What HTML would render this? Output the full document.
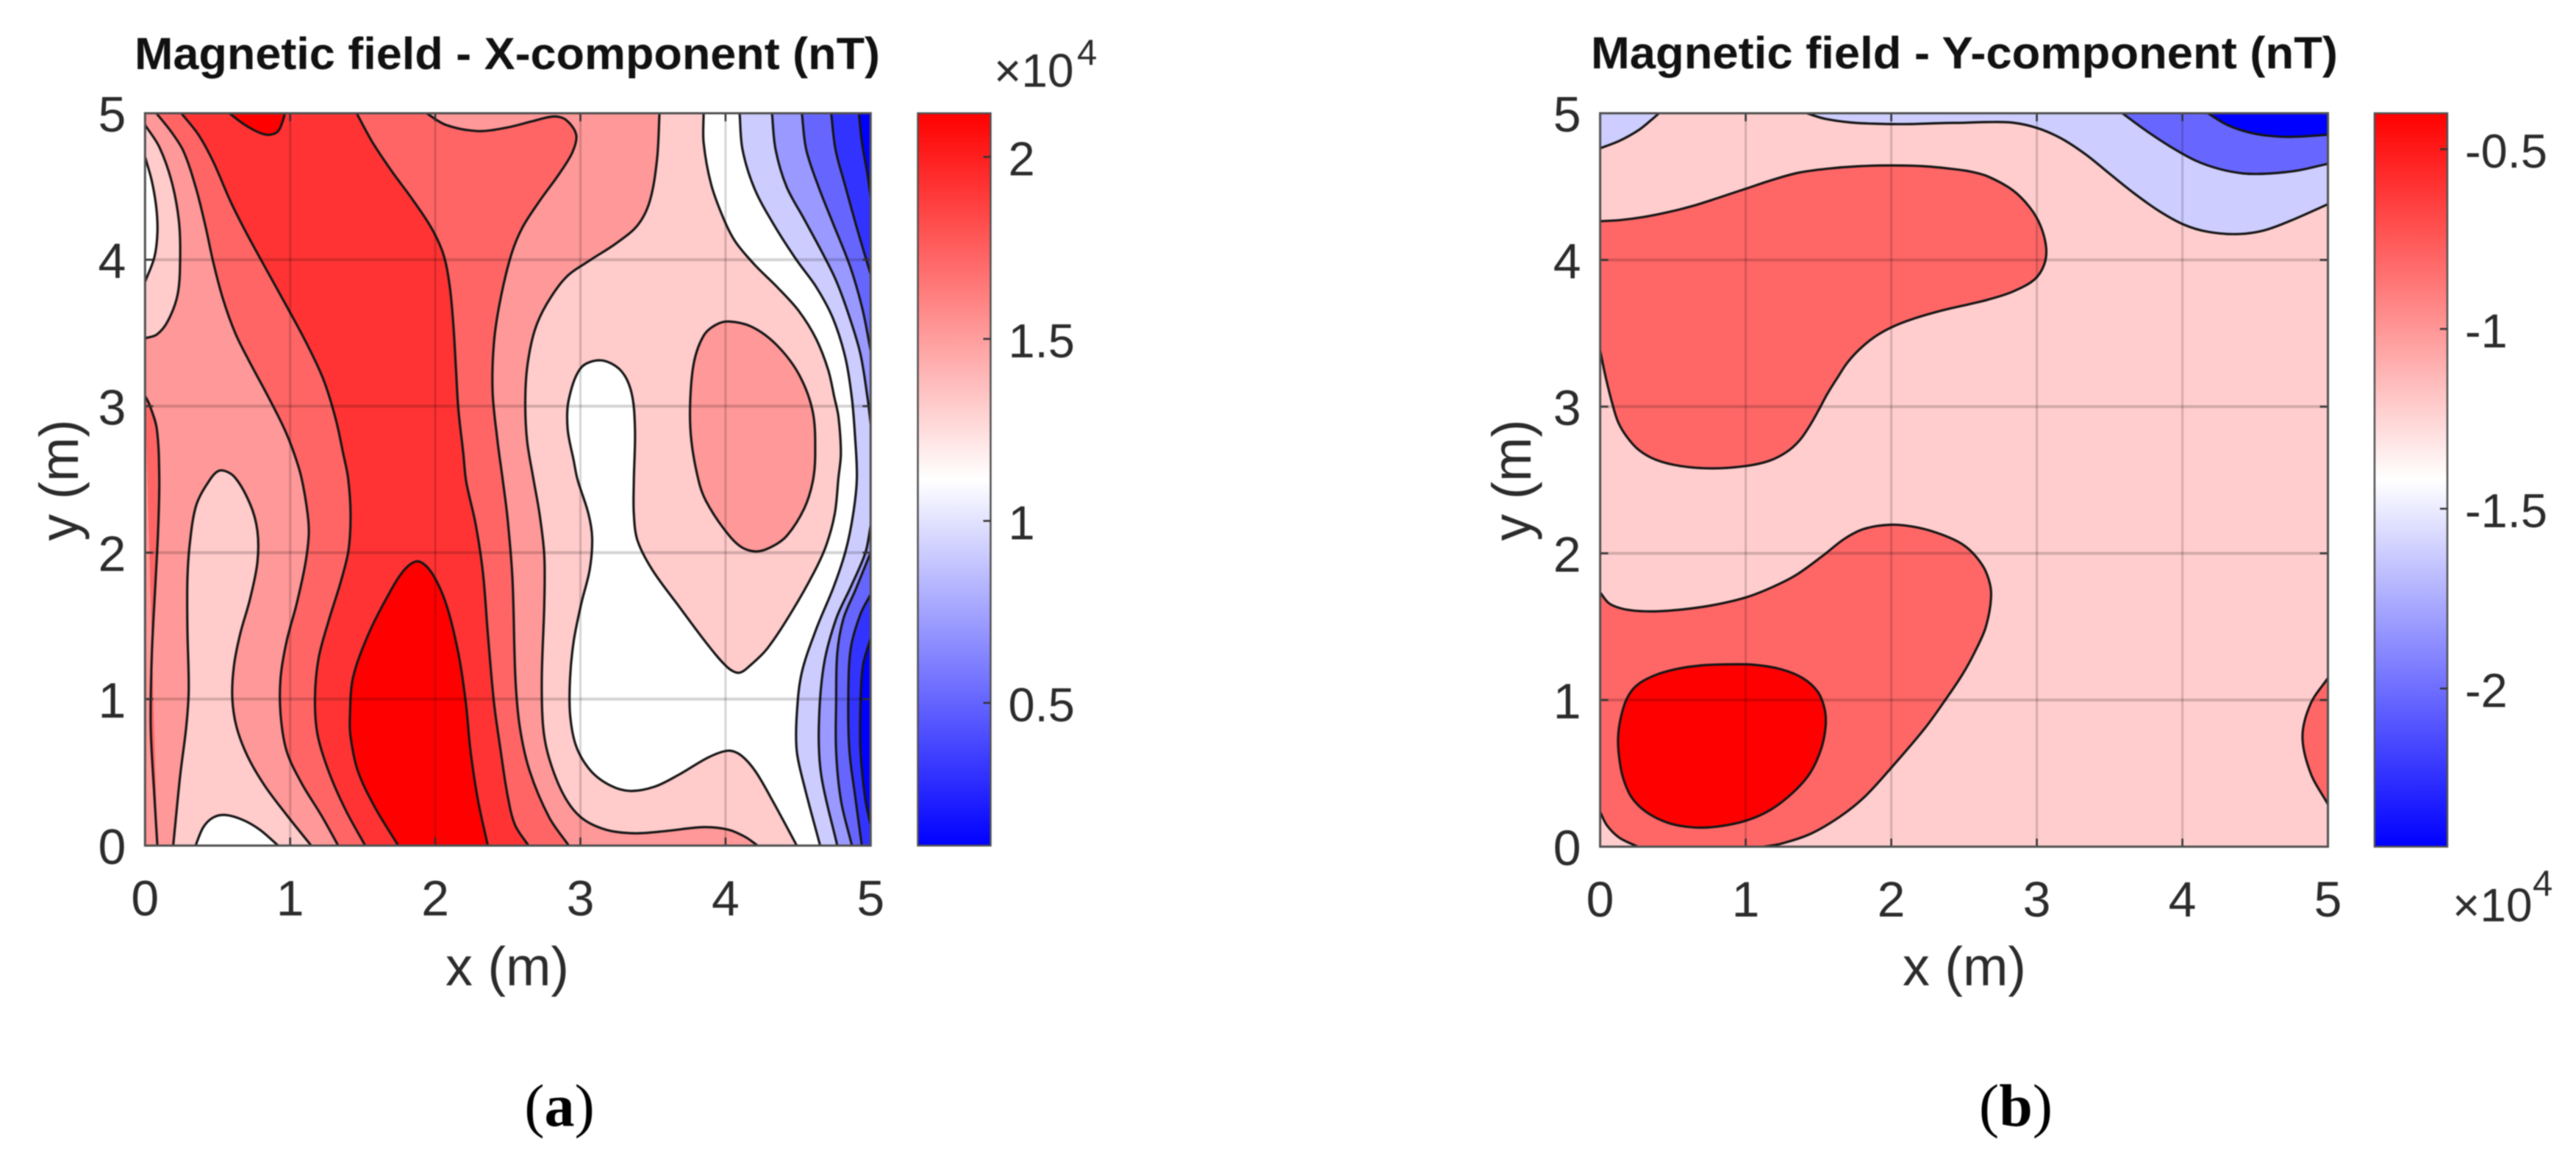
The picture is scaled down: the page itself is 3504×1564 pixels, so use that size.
<!DOCTYPE html>
<html lang="en">
<head>
<meta charset="utf-8">
<title>Magnetic field contour maps</title>
<style>
html,body{margin:0;padding:0;background:#fff;}
svg{display:block;filter:blur(0.9px);}
text{font-family:"Liberation Sans",sans-serif;fill:#2b2b2b;}
.title{font-weight:700;font-size:61px;fill:#111;}
.axis-label{font-size:74px;}
.tick{font-size:68px;}
.cb-tick{font-size:65px;}
.mult{font-size:64px;}
.exp{font-size:49px;}
.caption{font-family:"Liberation Serif",serif;font-size:82px;fill:#000;}
</style>
</head>
<body>
<svg id="figure" xmlns="http://www.w3.org/2000/svg" width="3504" height="1564" viewBox="0 0 3504 1564">
  <defs>
    <linearGradient id="cmap" x1="0" y1="1" x2="0" y2="0">
      <stop offset="0" stop-color="#0000ff"/>
      <stop offset="0.5" stop-color="#ffffff"/>
      <stop offset="1" stop-color="#ff0000"/>
    </linearGradient>
    <clipPath id="clipA"><rect x="197.3" y="154" width="987" height="996"/></clipPath>
    <clipPath id="clipB"><rect x="2176.6" y="154" width="990" height="997.5"/></clipPath>
  </defs>
  <rect x="0" y="0" width="3504" height="1564" fill="#ffffff"/>

  <g id="panelA"></g>
  <g id="panelB"></g>

  <text class="title" x="183" y="94" textLength="1014" lengthAdjust="spacingAndGlyphs">Magnetic field - X-component (nT)</text>
  <text class="axis-label" x="690" y="1340" text-anchor="middle" textLength="168" lengthAdjust="spacingAndGlyphs">x (m)</text>
  <text class="axis-label" x="0" y="0" text-anchor="middle" textLength="165" lengthAdjust="spacingAndGlyphs" transform="translate(106 653) rotate(-90)">y (m)</text>
  <text class="mult" x="1352" y="118">×10</text>
  <text class="exp" x="1465" y="88">4</text>
  <text class="caption" x="761" y="1531" text-anchor="middle">(<tspan font-weight="700">a</tspan>)</text>

  <text class="title" x="2164" y="93" textLength="1016" lengthAdjust="spacingAndGlyphs">Magnetic field - Y-component (nT)</text>
  <text class="axis-label" x="2672" y="1340" text-anchor="middle" textLength="168" lengthAdjust="spacingAndGlyphs">x (m)</text>
  <text class="axis-label" x="0" y="0" text-anchor="middle" textLength="165" lengthAdjust="spacingAndGlyphs" transform="translate(2082 653) rotate(-90)">y (m)</text>
  <text class="mult" x="3336" y="1253">×10</text>
  <text class="exp" x="3445" y="1218">4</text>
  <text class="caption" x="2742" y="1531" text-anchor="middle">(<tspan font-weight="700">b</tspan>)</text>
</svg>

<script>
/* ---- axis values ---- */
const xTicks = [0, 1, 2, 3, 4, 5];
const yTicks = [0, 1, 2, 3, 4, 5];
const axisMin = 0;
const axisMax = 5;

/* ---- panel (a): colour scale in units of 1e4 nT ---- */
const cbarTicksA = [2, 1.5, 1, 0.5];
const cbarLimitsA = [0.108, 2.12];
const bandsA = [2.12, 1.92, 1.72, 1.52, 1.32, 1.114, 0.913, 0.71, 0.51, 0.31, 0.108];

/* ---- panel (a): contour lines in metres [x, y] ---- */
const contourA_H = [[3.545,5],[3.528,4.685],[3.478,4.4],[3.393,4.234],[3.241,4.108],[3.072,4],[2.903,3.882],[2.768,3.698],[2.684,3.514],[2.633,3.263],[2.62,3.012],[2.633,2.761],[2.675,2.51],[2.718,2.267],[2.751,1.983],[2.751,1.648],[2.734,1.146],[2.743,0.812],[2.785,0.594],[2.886,0.343],[3.005,0.192],[3.174,0.109],[3.376,0.084],[3.596,0.1],[3.849,0.126],[4.018,0.109],[4.136,0.059],[4.221,0]];
const contourA_I = [[3.849,5],[3.849,4.8],[3.9,4.518],[3.985,4.284],[4.066,4.126],[4.2,3.966],[4.354,3.815],[4.505,3.65],[4.624,3.46],[4.708,3.246],[4.75,3.06],[4.778,2.929],[4.795,2.678],[4.778,2.51],[4.753,2.267],[4.694,2.05],[4.61,1.866],[4.457,1.598],[4.289,1.347],[4.17,1.23],[4.094,1.18],[4.018,1.213],[3.883,1.364],[3.68,1.632],[3.495,1.883],[3.393,2.084],[3.368,2.267],[3.368,2.485],[3.376,2.845],[3.351,3.096],[3.275,3.247],[3.14,3.313],[3.005,3.263],[2.92,3.046],[2.912,2.845],[2.954,2.628],[2.98,2.5],[3.055,2.267],[3.081,2.1],[3.064,1.883],[3.005,1.648],[2.954,1.397],[2.929,1.146],[2.929,0.895],[2.971,0.678],[3.072,0.51],[3.207,0.41],[3.343,0.373],[3.511,0.402],[3.68,0.485],[3.883,0.603],[4.018,0.648],[4.103,0.619],[4.204,0.51],[4.322,0.31],[4.491,0]];
const contourA_J = [[4.027,3.578],[4.187,3.539],[4.356,3.414],[4.508,3.213],[4.601,2.962],[4.618,2.678],[4.601,2.485],[4.542,2.301],[4.424,2.117],[4.322,2.042],[4.213,2.008],[4.103,2.042],[3.985,2.167],[3.866,2.351],[3.816,2.485],[3.765,2.761],[3.756,3.012],[3.782,3.297],[3.849,3.481],[3.934,3.556]];
const contourA_K = [[4.097,5],[4.117,4.752],[4.2,4.484],[4.336,4.234],[4.488,4],[4.624,3.815],[4.74,3.6],[4.826,3.33],[4.87,3.06],[4.892,2.8],[4.905,2.51],[4.88,2.267],[4.829,2.017],[4.745,1.766],[4.626,1.481],[4.525,1.18],[4.491,0.895],[4.491,0.644],[4.542,0.41],[4.652,0]];
const contourA_L1 = [[4.32,5],[4.345,4.752],[4.42,4.5],[4.54,4.28],[4.657,4.066],[4.758,3.866],[4.84,3.65],[4.928,3.363],[4.978,3.06],[5,2.88]];
const contourA_L2 = [[5,2.184],[4.964,2],[4.863,1.766],[4.762,1.548],[4.677,1.23],[4.643,0.812],[4.66,0.477],[4.77,0]];
const contourA_M1 = [[4.526,5],[4.556,4.752],[4.64,4.5],[4.74,4.25],[4.86,3.95],[4.943,3.665],[5,3.38]];
const contourA_M2 = [[5,2],[4.897,1.749],[4.812,1.548],[4.77,1.313],[4.762,0.979],[4.762,0.644],[4.795,0.31],[4.871,0]];
const contourA_N1 = [[4.728,5],[4.758,4.752],[4.826,4.5],[4.91,4.2],[5,3.9]];
const contourA_N2 = [[5,1.715],[4.93,1.581],[4.863,1.347],[4.846,1.013],[4.854,0.644],[4.897,0.31],[4.939,0]];
const contourA_O1 = [[4.919,5],[4.94,4.8],[4.978,4.585],[5,4.43]];
const contourA_O2 = [[5,1.414],[4.947,1.23],[4.93,0.979],[4.93,0.644],[4.964,0.31],[5,0.142]];
const contourA_G = [[1.939,5],[2.074,4.92],[2.294,4.878],[2.498,4.903],[2.667,4.945],[2.819,4.978],[2.903,4.953],[2.971,4.853],[2.946,4.736],[2.853,4.585],[2.718,4.4],[2.599,4.217],[2.523,4.033],[2.446,3.715],[2.404,3.431],[2.395,3.096],[2.429,2.761],[2.463,2.51],[2.498,2.234],[2.532,1.816],[2.552,1.146],[2.582,0.812],[2.65,0.51],[2.785,0.192],[2.92,0]];
const contourA_F = [[1.458,5],[1.568,4.8],[1.703,4.6],[1.838,4.418],[1.973,4.217],[2.057,4.033],[2.1,3.815],[2.125,3.548],[2.142,3.263],[2.159,2.979],[2.193,2.678],[2.213,2.485],[2.277,2.2],[2.328,1.866],[2.362,1.448],[2.404,0.979],[2.446,0.678],[2.498,0.343],[2.549,0.142],[2.642,0]];
const contourA_D = [[0.25,5],[0.368,4.853],[0.47,4.669],[0.588,4.4],[0.689,4.2],[0.808,3.983],[0.976,3.682],[1.112,3.431],[1.23,3.18],[1.314,2.912],[1.365,2.678],[1.399,2.51],[1.416,2.267],[1.402,2.017],[1.348,1.799],[1.264,1.531],[1.196,1.28],[1.171,1.013],[1.188,0.761],[1.264,0.51],[1.382,0.243],[1.517,0]];
const contourA_C = [[0.078,5],[0.183,4.87],[0.267,4.736],[0.352,4.485],[0.419,4.217],[0.47,3.983],[0.537,3.732],[0.622,3.498],[0.723,3.297],[0.841,3.079],[0.96,2.845],[1.027,2.678],[1.078,2.51],[1.12,2.267],[1.128,2.117],[1.103,1.916],[1.044,1.648],[0.976,1.397],[0.934,1.146],[0.934,0.895],[0.976,0.644],[1.078,0.427],[1.213,0.209],[1.331,0]];
const contourA_B = [[0,4.92],[0.098,4.77],[0.183,4.535],[0.233,4.267],[0.242,4.016],[0.225,3.765],[0.157,3.581],[0.081,3.489],[0,3.464]];
const contourA_A = [[0,4.702],[0.047,4.535],[0.078,4.351],[0.085,4.183],[0.064,4.016],[0,3.849]];
const contourA_P = [[0,3.07],[0.03,3.012],[0.081,2.845],[0.098,2.51],[0.09,2.15],[0.073,1.816],[0.047,1.313],[0.039,0.812],[0.064,0.343],[0.085,0]];
const contourA_Q = [[0.194,0],[0.242,0.477],[0.284,0.812],[0.301,1.063],[0.292,1.481],[0.292,1.816],[0.309,2.067],[0.351,2.318],[0.427,2.468],[0.512,2.56],[0.613,2.52],[0.723,2.334],[0.774,2.15],[0.774,1.933],[0.723,1.682],[0.656,1.447],[0.613,1.23],[0.601,1.012],[0.63,0.812],[0.706,0.611],[0.824,0.41],[0.976,0.209],[1.145,0]];
const contourA_R = [[0.348,0],[0.402,0.126],[0.47,0.192],[0.554,0.209],[0.672,0.176],[0.79,0.109],[0.917,0]];
const contourA_E = [[0.58,5],[0.689,4.92],[0.791,4.866],[0.858,4.853],[0.917,4.878],[0.951,4.953],[0.963,5]];
const contourA_Peak = [[1.745,0],[1.585,0.259],[1.466,0.51],[1.416,0.745],[1.412,0.895],[1.433,1.146],[1.534,1.431],[1.669,1.698],[1.787,1.883],[1.88,1.941],[1.973,1.866],[2.075,1.648],[2.159,1.313],[2.21,0.979],[2.243,0.644],[2.294,0.31],[2.362,0]];

/* Corners of the plotted domain, used to close contour bands */
const cornersRight = [[5,0],[5,5]];
const cornersLeft = [[0,0],[0,5]];
const cornerTopRight = [[5,5]];
const cornerBottomRight = [[5,0]];
const cornerTopLeft = [[0,5]];
const cornerBottomLeft = [[0,0]];
const noCorners = [];

/* Painting order for panel (a): [contour, band value, closing corners or 'loop'] */
const layersA = [
  [contourA_I, 1.114, cornersRight],
  [contourA_K, 0.913, cornersRight],
  [contourA_L1, 0.71, cornerTopRight],
  [contourA_L2, 0.71, cornerBottomRight],
  [contourA_M1, 0.51, cornerTopRight],
  [contourA_M2, 0.51, cornerBottomRight],
  [contourA_N1, 0.31, cornerTopRight],
  [contourA_N2, 0.31, cornerBottomRight],
  [contourA_O1, 0.108, cornerTopRight],
  [contourA_O2, 0.108, cornerBottomRight],
  [contourA_J, 1.52, 'loop'],
  [contourA_H, 1.52, cornersLeft],
  [contourA_G, 1.72, cornersLeft],
  [contourA_F, 1.92, cornersLeft],
  [contourA_D, 1.72, cornersLeft],
  [contourA_C, 1.52, cornersLeft],
  [contourA_Peak, 2.12, noCorners],
  [contourA_E, 2.12, noCorners],
  [contourA_P, 1.72, noCorners],
  [contourA_Q, 1.32, noCorners],
  [contourA_R, 1.114, noCorners],
  [contourA_B, 1.32, noCorners],
  [contourA_A, 1.114, noCorners]
];
const baseBandA = 1.32;

/* ---- panel (b): colour scale in units of 1e4 nT ---- */
const cbarTicksB = [-0.5, -1, -1.5, -2];
const cbarLimitsB = [-2.44, -0.40];
const bandsB = [-0.40, -0.81, -1.22, -1.62, -2.03, -2.44];

/* ---- panel (b): contour lines in metres [x, y] ---- */
const contourB_Corner = [[0,4.761],[0.131,4.811],[0.266,4.886],[0.35,4.953],[0.404,5]];
const contourB_Low1 = [[1.419,5],[1.545,4.962],[1.731,4.936],[1.916,4.928],[2.118,4.926],[2.354,4.933],[2.497,4.935],[2.664,4.94],[2.832,4.936],[3,4.9],[3.168,4.828],[3.336,4.719],[3.503,4.585],[3.671,4.452],[3.839,4.334],[4.007,4.242],[4.174,4.192],[4.376,4.176],[4.56,4.201],[4.745,4.268],[5,4.38]];
const contourB_Low2 = [[3.587,5],[3.755,4.878],[3.923,4.769],[4.091,4.677],[4.258,4.619],[4.426,4.589],[4.594,4.589],[4.795,4.61],[5,4.656]];
const contourB_Low3 = [[4.174,5],[4.309,4.92],[4.443,4.873],[4.577,4.848],[4.745,4.839],[5,4.853]];
const contourB_Upper = [[0,4.264],[0.131,4.271],[0.3,4.293],[0.468,4.326],[0.636,4.368],[0.805,4.421],[1,4.485],[1.175,4.543],[1.36,4.594],[1.562,4.622],[1.781,4.639],[2,4.644],[2.219,4.639],[2.404,4.622],[2.547,4.602],[2.664,4.569],[2.832,4.477],[2.95,4.36],[3.025,4.234],[3.064,4.084],[3.05,3.967],[2.983,3.866],[2.832,3.783],[2.664,3.729],[2.539,3.699],[2.354,3.657],[2.152,3.599],[2,3.54],[1.882,3.473],[1.781,3.39],[1.697,3.298],[1.63,3.197],[1.562,3.089],[1.503,2.98],[1.44,2.87],[1.37,2.77],[1.28,2.69],[1.16,2.63],[1,2.595],[0.771,2.579],[0.552,2.595],[0.384,2.637],[0.266,2.704],[0.182,2.796],[0.123,2.896],[0.081,3.03],[0.039,3.197],[0,3.381]];
const contourB_Lower = [[0,1.733],[0.064,1.657],[0.182,1.616],[0.35,1.604],[0.552,1.616],[0.771,1.646],[1,1.699],[1.175,1.766],[1.343,1.85],[1.529,1.983],[1.68,2.1],[1.815,2.167],[2,2.195],[2.185,2.175],[2.354,2.125],[2.488,2.062],[2.58,1.98],[2.652,1.87],[2.686,1.723],[2.65,1.5],[2.57,1.32],[2.488,1.173],[2.387,1.023],[2.236,0.814],[2,0.538],[1.815,0.338],[1.646,0.204],[1.444,0.087],[1.242,0.02],[1.125,0]];
const contourB_LowerCorner = [[0.258,0],[0.131,0.062],[0.047,0.145],[0,0.237]];
const contourB_Peak = [[0.872,1.243],[1.057,1.24],[1.242,1.21],[1.394,1.148],[1.495,1.056],[1.542,0.939],[1.549,0.822],[1.52,0.672],[1.444,0.505],[1.327,0.371],[1.175,0.254],[1.007,0.179],[0.805,0.137],[0.636,0.132],[0.468,0.162],[0.316,0.237],[0.215,0.338],[0.157,0.471],[0.131,0.605],[0.123,0.739],[0.14,0.872],[0.182,1.006],[0.249,1.098],[0.367,1.165],[0.519,1.21],[0.687,1.235]];
const contourB_Right = [[5,1.15],[4.881,0.975],[4.825,0.751],[4.881,0.501],[5,0.289]];

const layersB = [
  [contourB_Corner, -1.62, cornerTopLeft],
  [contourB_Low1, -1.62, cornerTopRight],
  [contourB_Low2, -2.03, cornerTopRight],
  [contourB_Low3, -2.44, cornerTopRight],
  [contourB_Upper, -0.81, noCorners],
  [contourB_Lower, -0.81, cornerBottomLeft],
  [contourB_LowerCorner, -1.22, cornerBottomLeft],
  [contourB_Peak, -0.40, 'loop'],
  [contourB_Right, -0.81, noCorners]
];
const baseBandB = -1.22;

/* ---- drawing ---- */
const SVG_NS = 'http://www.w3.org/2000/svg';

function colormap(v, lim) {
  const t = Math.max(0, Math.min(1, (v - lim[0]) / (lim[1] - lim[0])));
  let r, g, b;
  if (t < 0.5) {
    const k = t * 2;
    r = 255 * k; g = 255 * k; b = 255;
  } else {
    const k = (1 - t) * 2;
    r = 255; g = 255 * k; b = 255 * k;
  }
  return 'rgb(' + Math.round(r) + ',' + Math.round(g) + ',' + Math.round(b) + ')';
}

function dist(a, b) {
  return Math.max(1e-6, Math.hypot(a[0] - b[0], a[1] - b[1]));
}

/* Chord-length scaled spline: stays smooth with unevenly spaced points */
function smoothPath(pts, loop) {
  const n = pts.length;
  const tangent = function (i) {
    const hasPrev = loop || i > 0;
    const hasNext = loop || i < n - 1;
    const p = pts[i];
    const a = hasPrev ? pts[(i - 1 + n) % n] : p;
    const b = hasNext ? pts[(i + 1) % n] : p;
    const len = (hasPrev ? dist(a, p) : 0) + (hasNext ? dist(p, b) : 0);
    return [(b[0] - a[0]) / len, (b[1] - a[1]) / len];
  };
  let d = 'M' + pts[0][0].toFixed(2) + ' ' + pts[0][1].toFixed(2);
  const segs = loop ? n : n - 1;
  for (let i = 0; i < segs; i++) {
    const p1 = pts[i], p2 = pts[(i + 1) % n];
    const t1 = tangent(i), t2 = tangent((i + 1) % n);
    const h = dist(p1, p2) / 3;
    d += 'C' + (p1[0] + t1[0] * h).toFixed(2) + ' ' + (p1[1] + t1[1] * h).toFixed(2) + ' ' +
         (p2[0] - t2[0] * h).toFixed(2) + ' ' + (p2[1] - t2[1] * h).toFixed(2) + ' ' +
         p2[0].toFixed(2) + ' ' + p2[1].toFixed(2);
  }
  return loop ? d + 'Z' : d;
}

function addLine(parent, x1, y1, x2, y2, stroke, width) {
  const ln = document.createElementNS(SVG_NS, 'line');
  ln.setAttribute('x1', x1);
  ln.setAttribute('y1', y1);
  ln.setAttribute('x2', x2);
  ln.setAttribute('y2', y2);
  ln.setAttribute('stroke', stroke);
  ln.setAttribute('stroke-width', width);
  parent.appendChild(ln);
  return ln;
}

function addText(parent, x, y, str, cls, anchor) {
  const t = document.createElementNS(SVG_NS, 'text');
  t.setAttribute('x', x);
  t.setAttribute('y', y);
  t.setAttribute('class', cls);
  t.setAttribute('text-anchor', anchor);
  t.textContent = str;
  parent.appendChild(t);
  return t;
}

function drawPanel(root, box, clipId, layers, baseBand, limits, cbarBox, cbarTicks) {
  const xScale = function (x) { return box.left + (x - axisMin) * (box.right - box.left) / (axisMax - axisMin); };
  const yScale = function (y) { return box.bottom - (y - axisMin) * (box.bottom - box.top) / (axisMax - axisMin); };
  const cbarScale = function (v) { return cbarBox.top + (limits[1] - v) * (cbarBox.bottom - cbarBox.top) / (limits[1] - limits[0]); };
  const toPx = function (p) { return [xScale(p[0]), yScale(p[1])]; };

  const plot = document.createElementNS(SVG_NS, 'g');
  plot.setAttribute('clip-path', 'url(#' + clipId + ')');
  
  
  root.appendChild(plot);

  const base = document.createElementNS(SVG_NS, 'rect');
  base.setAttribute('x', box.left);
  base.setAttribute('y', box.top);
  base.setAttribute('width', box.right - box.left);
  base.setAttribute('height', box.bottom - box.top);
  base.setAttribute('fill', colormap(baseBand, limits));
  
  
  plot.appendChild(base);

  layers.forEach(function (layer) {
    const pts = layer[0].map(toPx);
    let d;
    if (layer[2] === 'loop') {
      d = smoothPath(pts, true);
    } else {
      d = smoothPath(pts, false);
      layer[2].forEach(function (c) {
        const q = toPx(c);
        d += 'L' + q[0].toFixed(2) + ' ' + q[1].toFixed(2);
      });
      d += 'Z';
    }
    const fill = document.createElementNS(SVG_NS, 'path');
    fill.setAttribute('d', d);
    fill.setAttribute('fill', colormap(layer[1], limits));
    
    
    plot.appendChild(fill);
  });

  layers.forEach(function (layer) {
    const pts = layer[0].map(toPx);
    const line = document.createElementNS(SVG_NS, 'path');
    line.setAttribute('d', smoothPath(pts, layer[2] === 'loop'));
    line.setAttribute('fill', 'none');
    line.setAttribute('stroke', '#161616');
    line.setAttribute('stroke-width', '3.2');
    
    
    plot.appendChild(line);
  });

  xTicks.forEach(function (v) {
    if (v > axisMin && v < axisMax) {
      const g = addLine(root, xScale(v), box.top, xScale(v), box.bottom, 'rgba(0,0,0,0.17)', 3);
      
      
    }
    const tb = addLine(root, xScale(v), box.bottom, xScale(v), box.bottom - 11, '#333', 2.5);
    
    
    const tt = addLine(root, xScale(v), box.top, xScale(v), box.top + 11, '#333', 2.5);
    
    
    const lbl = addText(root, xScale(v), box.bottom + 95, String(v), 'tick', 'middle');
    
    
  });

  yTicks.forEach(function (v) {
    if (v > axisMin && v < axisMax) {
      const g = addLine(root, box.left, yScale(v), box.right, yScale(v), 'rgba(0,0,0,0.17)', 4);
      
      
    }
    const tl = addLine(root, box.left, yScale(v), box.left + 11, yScale(v), '#333', 2.5);
    
    
    const tr = addLine(root, box.right, yScale(v), box.right - 11, yScale(v), '#333', 2.5);
    
    
    const lbl = addText(root, box.left - 26, yScale(v) + 25, String(v), 'tick', 'end');
    
    
  });

  const frame = document.createElementNS(SVG_NS, 'rect');
  frame.setAttribute('x', box.left);
  frame.setAttribute('y', box.top);
  frame.setAttribute('width', box.right - box.left);
  frame.setAttribute('height', box.bottom - box.top);
  frame.setAttribute('fill', 'none');
  frame.setAttribute('stroke', '#505050');
  frame.setAttribute('stroke-width', '3');
  
  
  root.appendChild(frame);

  const bar = document.createElementNS(SVG_NS, 'rect');
  bar.setAttribute('x', cbarBox.left);
  bar.setAttribute('y', cbarBox.top);
  bar.setAttribute('width', cbarBox.right - cbarBox.left);
  bar.setAttribute('height', cbarBox.bottom - cbarBox.top);
  bar.setAttribute('fill', 'url(#cmap)');
  bar.setAttribute('stroke', '#505050');
  bar.setAttribute('stroke-width', '2.5');
  
  
  root.appendChild(bar);

  cbarTicks.forEach(function (v) {
    const tk = addLine(root, cbarBox.right, cbarScale(v), cbarBox.right - 10, cbarScale(v), '#333', 2.5);
    
    
    const lbl = addText(root, cbarBox.right + 24, cbarScale(v) + 25, String(v), 'cb-tick', 'start');
    
    
  });
}

drawPanel(document.getElementById('panelA'),
  { left: 197.3, right: 1184.3, top: 154, bottom: 1150 },
  'clipA', layersA, baseBandA, cbarLimitsA,
  { left: 1248.5, right: 1347.5, top: 154, bottom: 1150 },
  cbarTicksA);

drawPanel(document.getElementById('panelB'),
  { left: 2176.6, right: 3166.6, top: 154, bottom: 1151.5 },
  'clipB', layersB, baseBandB, cbarLimitsB,
  { left: 3230, right: 3329, top: 154, bottom: 1151.5 },
  cbarTicksB);
</script>
</body>
</html>
